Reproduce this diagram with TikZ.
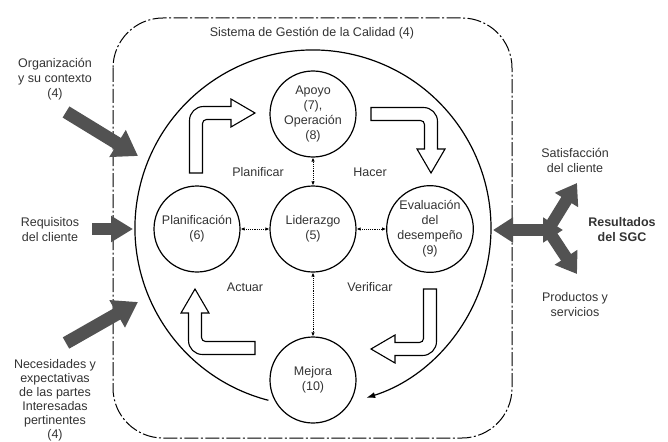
\documentclass[tikz,border=0pt]{standalone}
\usepackage{fontspec}
\setmainfont{Liberation Sans}
\usetikzlibrary{arrows.meta}

\begin{document}
\begin{tikzpicture}[x=1pt, y=-1pt,
        font=\fontsize{12.5}{15}\selectfont,
        proc/.style={circle, draw, line width=1.2pt, minimum size=86pt, inner sep=0pt, align=center, text=black!80},
        lbl/.style={align=center, text=black!80},
        link/.style={{Latex[length=4pt,width=3.5pt]}-{Latex[length=4pt,width=3.5pt]}, densely dotted, line width=0.9pt},
        inarrow/.style={line width=13pt, black!68, -{Triangle[length=24pt,width=30pt]}},
        outarrow/.style={line width=12pt, black!68, -{Triangle[length=20pt,width=26pt]}},
        hollow/.style={draw, line width=1.1pt, fill=white}]
        \useasboundingbox (0,0) rectangle (668,441);

        % sistema de gestion
        \draw[line width=1pt, dash pattern=on 14pt off 2.5pt on 2pt off 2.5pt, rounded corners=50pt] (113,18) rectangle (512,438);
        \node[lbl] at (312,33) (sgc) {Sistema de Gestión de la Calidad (4)};

        % ciclo grande
        \coordinate (arcstart) at (268.4,400.3);
        \draw[line width=1.2pt, -{Latex[length=9pt,width=6pt]}] (arcstart) arc[start angle=104.5, end angle=432.6, radius=178];

        \node[proc] at (313, 114) (apoyo) {Apoyo\\(7),\\Operación\\(8)};
        \node[proc] at (313, 229) (lider) {Liderazgo\\(5)};
        \node[proc] at (197, 229) (planif) {Planificación\\(6)};
        \node[proc] at (430, 229) (evalua) {Evaluación\\del\\desempeño\\(9)};
        \node[proc] at (313, 380) (mejora) {Mejora\\(10)};

        \draw[link] (lider) -- (apoyo);
        \draw[link] (lider) -- (planif);
        \draw[link] (lider) -- (evalua);
        \draw[link] (lider) -- (mejora);

        % flechas PHVA
        \foreach \ang in {0,-90,-180,-270} {
            \begin{scope}[shift={(313,231)}, rotate=\ang]
                \draw[hollow] (-123.5,-58) -- (-123.5,-110.5) arc[start angle=180, end angle=270, radius=14]
                    -- (-82,-124.5) -- (-82,-132) -- (-58,-118) -- (-82,-104) -- (-82,-111.5)
                    -- (-106.5,-111.5) arc[start angle=270, end angle=180, radius=4] -- (-110.5,-58) -- cycle;
            \end{scope}
        }
        \node[lbl] at (258, 172) (plan) {Planificar};
        \node[lbl] at (370, 172) (hacer) {Hacer};
        \node[lbl] at (245, 287) (actuar) {Actuar};
        \node[lbl] at (370, 287) (verif) {Verificar};

        % entradas
        \node[lbl] at (55, 79) (org) {Organización\\y su contexto\\(4)};
        \node[lbl] at (50, 230) (req) {Requisitos\\del cliente};
        \node[lbl, font=\fontsize{12.5}{14}\selectfont] at (55, 400) (nec) {Necesidades y\\expectativas\\de las partes\\Interesadas\\pertinentes\\(4)};

        \coordinate (orgtail) at (66, 112);
        \coordinate (orgtip) at (138, 156);
        \coordinate (reqtail) at (92, 229);
        \coordinate (reqtip) at (133, 229);
        \coordinate (nectail) at (66, 343);
        \coordinate (nectip) at (138, 302);
        \draw[inarrow] (orgtail) -- (orgtip);
        \draw[inarrow, line width=12pt, -{Triangle[length=22pt,width=25pt]}] (reqtail) -- (reqtip);
        \draw[inarrow] (nectail) -- (nectip);

        % resultados
        \coordinate (hub) at (548, 230);
        \coordinate (resleft) at (493, 230);
        \coordinate (resright) at (563, 230);
        \coordinate (resup) at (577, 183);
        \coordinate (resdown) at (577, 274);
        \draw[outarrow] (hub) -- (resup);
        \draw[outarrow] (hub) -- (resdown);
        \draw[outarrow, {Triangle[length=20pt,width=24pt]}-{Triangle[length=20pt,width=24pt]}] (resleft) -- (resright);

        \node[lbl] at (575, 160) (satis) {Satisfacción\\del cliente};
        \node[lbl, font=\fontsize{12.5}{15}\selectfont\bfseries] at (622, 230) (result) {Resultados\\del SGC};
        \node[lbl] at (575, 305) (prod) {Productos y\\servicios};
    \end{tikzpicture}
\end{document}
